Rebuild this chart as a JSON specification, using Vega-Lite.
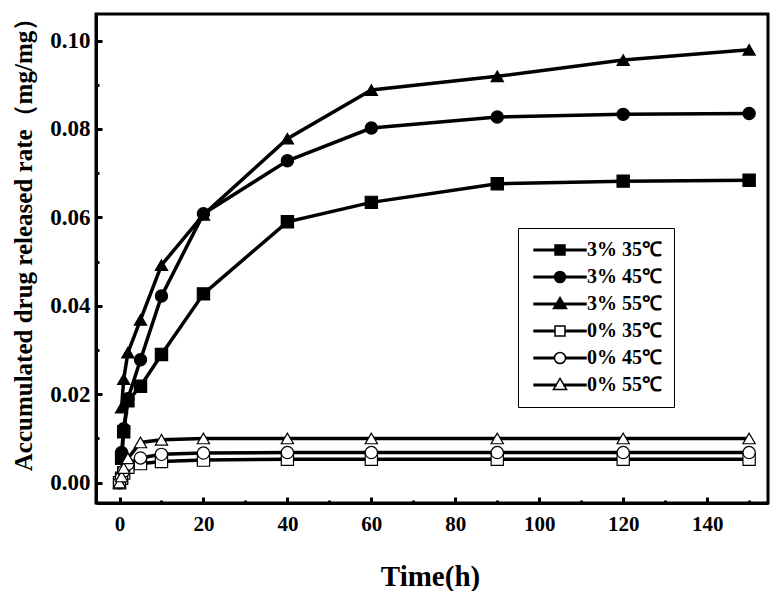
{
  "$schema": "https://vega.github.io/schema/vega-lite/v6.json",
  "autosize": {"type": "none"},
  "padding": {"left": 96, "top": 14, "right": 6, "bottom": 88},
  "width": 672,
  "height": 489,
  "config": {
    "font": "Liberation Serif",
    "view": {"stroke": "black", "strokeWidth": 3},
    "axis": {
      "labelFont": "Liberation Serif",
      "labelFontWeight": "bold",
      "labelColor": "black",
      "titleFont": "Liberation Serif",
      "titleFontWeight": "bold",
      "titleColor": "black",
      "domainColor": "black",
      "domainWidth": 3,
      "tickColor": "black",
      "grid": false
    },
    "legend": {
      "title": null,
      "orient": "none",
      "legendX": 422,
      "legendY": 214,
      "padding": 12,
      "strokeColor": "black",
      "fillColor": "white",
      "rowPadding": 7,
      "labelFont": "Liberation Serif",
      "labelFontWeight": "bold",
      "labelFontSize": 20,
      "labelColor": "black",
      "labelOffset": 17,
      "symbolOffset": 20,
      "symbolSize": 144,
      "symbolStrokeColor": "black",
      "symbolStrokeWidth": 1.5
    }
  },
  "data": {
    "values": [
      {"series": "3% 35℃", "t": 0.5, "v": 0.0055},
      {"series": "3% 35℃", "t": 1, "v": 0.0115},
      {"series": "3% 35℃", "t": 2, "v": 0.0185},
      {"series": "3% 35℃", "t": 5, "v": 0.0218},
      {"series": "3% 35℃", "t": 10, "v": 0.029},
      {"series": "3% 35℃", "t": 20, "v": 0.0427},
      {"series": "3% 35℃", "t": 40, "v": 0.059},
      {"series": "3% 35℃", "t": 60, "v": 0.0634},
      {"series": "3% 35℃", "t": 90, "v": 0.0676},
      {"series": "3% 35℃", "t": 120, "v": 0.0682},
      {"series": "3% 35℃", "t": 150, "v": 0.0684},
      {"series": "3% 45℃", "t": 0.5, "v": 0.0068},
      {"series": "3% 45℃", "t": 1, "v": 0.0122},
      {"series": "3% 45℃", "t": 2, "v": 0.019},
      {"series": "3% 45℃", "t": 5, "v": 0.0278},
      {"series": "3% 45℃", "t": 10, "v": 0.0422},
      {"series": "3% 45℃", "t": 20, "v": 0.0608},
      {"series": "3% 45℃", "t": 40, "v": 0.0728},
      {"series": "3% 45℃", "t": 60, "v": 0.0802},
      {"series": "3% 45℃", "t": 90, "v": 0.0827},
      {"series": "3% 45℃", "t": 120, "v": 0.0833},
      {"series": "3% 45℃", "t": 150, "v": 0.0835},
      {"series": "3% 55℃", "t": 0.5, "v": 0.0170},
      {"series": "3% 55℃", "t": 1, "v": 0.0234},
      {"series": "3% 55℃", "t": 2, "v": 0.0294},
      {"series": "3% 55℃", "t": 5, "v": 0.0368},
      {"series": "3% 55℃", "t": 10, "v": 0.0492},
      {"series": "3% 55℃", "t": 20, "v": 0.0606},
      {"series": "3% 55℃", "t": 40, "v": 0.0778},
      {"series": "3% 55℃", "t": 60, "v": 0.0888},
      {"series": "3% 55℃", "t": 90, "v": 0.0919},
      {"series": "3% 55℃", "t": 120, "v": 0.0956},
      {"series": "3% 55℃", "t": 150, "v": 0.0979},
      {"series": "0% 35℃", "t": 0, "v": 0},
      {"series": "0% 35℃", "t": 0.5, "v": 0.001},
      {"series": "0% 35℃", "t": 1, "v": 0.0022},
      {"series": "0% 35℃", "t": 2, "v": 0.0035},
      {"series": "0% 35℃", "t": 5, "v": 0.0043},
      {"series": "0% 35℃", "t": 10, "v": 0.0048},
      {"series": "0% 35℃", "t": 20, "v": 0.0051},
      {"series": "0% 35℃", "t": 40, "v": 0.0053},
      {"series": "0% 35℃", "t": 60, "v": 0.0053},
      {"series": "0% 35℃", "t": 90, "v": 0.0053},
      {"series": "0% 35℃", "t": 120, "v": 0.0053},
      {"series": "0% 35℃", "t": 150, "v": 0.0053},
      {"series": "0% 45℃", "t": 0, "v": 0},
      {"series": "0% 45℃", "t": 0.5, "v": 0.0012},
      {"series": "0% 45℃", "t": 1, "v": 0.0026},
      {"series": "0% 45℃", "t": 2, "v": 0.0042},
      {"series": "0% 45℃", "t": 5, "v": 0.0056},
      {"series": "0% 45℃", "t": 10, "v": 0.0064},
      {"series": "0% 45℃", "t": 20, "v": 0.0067},
      {"series": "0% 45℃", "t": 40, "v": 0.0068},
      {"series": "0% 45℃", "t": 60, "v": 0.0068},
      {"series": "0% 45℃", "t": 90, "v": 0.0068},
      {"series": "0% 45℃", "t": 120, "v": 0.0068},
      {"series": "0% 45℃", "t": 150, "v": 0.0068},
      {"series": "0% 55℃", "t": 0, "v": 0},
      {"series": "0% 55℃", "t": 0.5, "v": 0.0014},
      {"series": "0% 55℃", "t": 1, "v": 0.0033},
      {"series": "0% 55℃", "t": 2, "v": 0.0055},
      {"series": "0% 55℃", "t": 5, "v": 0.0091},
      {"series": "0% 55℃", "t": 10, "v": 0.0097},
      {"series": "0% 55℃", "t": 20, "v": 0.0100},
      {"series": "0% 55℃", "t": 40, "v": 0.0100},
      {"series": "0% 55℃", "t": 60, "v": 0.0100},
      {"series": "0% 55℃", "t": 90, "v": 0.0100},
      {"series": "0% 55℃", "t": 120, "v": 0.0100},
      {"series": "0% 55℃", "t": 150, "v": 0.0100}
    ]
  },
  "layer": [
    {
      "mark": {"type": "line", "color": "black", "strokeWidth": 3.5},
      "encoding": {
        "x": {
          "field": "t",
          "type": "quantitative",
          "scale": {"domain": [-5.6, 154.5], "nice": false, "zero": false},
          "axis": {
            "orient": "bottom",
            "values": [10, 30, 50, 70, 90, 110, 130, 150],
            "labels": false,
            "domain": false,
            "tickSize": -3,
            "tickWidth": 3,
            "title": null
          }
        },
        "y": {
          "field": "v",
          "type": "quantitative",
          "scale": {"domain": [-0.0046, 0.106], "nice": false, "zero": false},
          "axis": {
            "orient": "left",
            "values": [0.01, 0.03, 0.05, 0.07, 0.09],
            "labels": false,
            "domain": false,
            "tickSize": -3,
            "tickWidth": 3,
            "title": null
          }
        },
        "detail": {"field": "series"}
      }
    },
    {
      "mark": {"type": "point", "filled": true, "size": 150, "stroke": "black", "strokeWidth": 1.2, "opacity": 1},
      "encoding": {
        "x": {
          "field": "t",
          "type": "quantitative",
          "axis": {
            "orient": "bottom",
            "values": [0, 20, 40, 60, 80, 100, 120, 140],
            "tickSize": -6,
            "tickWidth": 3,
            "labelPadding": 16,
            "labelFontSize": 21,
            "title": "Time(h)",
            "titleFontSize": 29,
            "titleX": 334,
            "titleY": 73,
            "titleBaseline": "middle"
          }
        },
        "y": {
          "field": "v",
          "type": "quantitative",
          "axis": {
            "orient": "left",
            "values": [0, 0.02, 0.04, 0.06, 0.08, 0.1],
            "format": ".2f",
            "tickSize": -6,
            "tickWidth": 3,
            "labelPadding": 12,
            "labelFontSize": 23,
            "title": "Accumulated drug released rate（mg/mg）",
            "titleFontSize": 25,
            "titleAngle": -90,
            "titleX": -73,
            "titleY": 224,
            "titleAlign": "center",
            "titleBaseline": "middle"
          }
        },
        "shape": {
          "field": "series",
          "type": "nominal",
          "scale": {
            "domain": ["3% 35℃", "3% 45℃", "3% 55℃", "0% 35℃", "0% 45℃", "0% 55℃"],
            "range": ["square", "circle", "triangle-up", "square", "circle", "triangle-up"]
          },
          "legend": null
        },
        "fill": {
          "field": "series",
          "type": "nominal",
          "scale": {
            "domain": ["3% 35℃", "3% 45℃", "3% 55℃", "0% 35℃", "0% 45℃", "0% 55℃"],
            "range": ["black", "black", "black", "white", "white", "white"]
          },
          "legend": null
        }
      }
    },
    {
      "transform": [{"filter": "false"}],
      "mark": {"type": "point", "filled": true, "strokeWidth": 1.5, "opacity": 1},
      "encoding": {
        "shape": {
          "field": "series",
          "type": "nominal",
          "scale": {
            "domain": ["3% 35℃", "3% 45℃", "3% 55℃", "0% 35℃", "0% 45℃", "0% 55℃"],
            "range": [
              "M-4.33,-0.11H-0.83V0.11H-4.33Z M0.83,-0.11H4.33V0.11H0.83Z M-0.83,-0.83H0.83V0.83H-0.83Z",
              "M-4.33,-0.11H-0.92V0.11H-4.33Z M0.92,-0.11H4.33V0.11H0.92Z M0.92,0A0.92,0.92,0,1,1,-0.92,0A0.92,0.92,0,1,1,0.92,0Z",
              "M-4.33,-0.11H-0.65V0.11H-4.33Z M0.65,-0.11H4.33V0.11H0.65Z M0,-1.1L1.1,0.75L-1.1,0.75Z",
              "M-4.33,-0.11H-0.83V0.11H-4.33Z M0.83,-0.11H4.33V0.11H0.83Z M-0.83,-0.83H0.83V0.83H-0.83Z",
              "M-4.33,-0.11H-0.92V0.11H-4.33Z M0.92,-0.11H4.33V0.11H0.92Z M0.92,0A0.92,0.92,0,1,1,-0.92,0A0.92,0.92,0,1,1,0.92,0Z",
              "M-4.33,-0.11H-0.65V0.11H-4.33Z M0.65,-0.11H4.33V0.11H0.65Z M0,-1.1L1.1,0.75L-1.1,0.75Z"
            ]
          },
          "legend": {}
        },
        "fill": {
          "field": "series",
          "type": "nominal",
          "scale": {
            "domain": ["3% 35℃", "3% 45℃", "3% 55℃", "0% 35℃", "0% 45℃", "0% 55℃"],
            "range": ["black", "black", "black", "white", "white", "white"]
          },
          "legend": {}
        },
        "stroke": {
          "field": "series",
          "type": "nominal",
          "scale": {
            "domain": ["3% 35℃", "3% 45℃", "3% 55℃", "0% 35℃", "0% 45℃", "0% 55℃"],
            "range": ["black", "black", "black", "black", "black", "black"]
          },
          "legend": {}
        }
      }
    }
  ],
  "resolve": {
    "axis": {"x": "independent", "y": "independent"},
    "scale": {"shape": "independent", "fill": "independent", "stroke": "independent"}
  }
}
